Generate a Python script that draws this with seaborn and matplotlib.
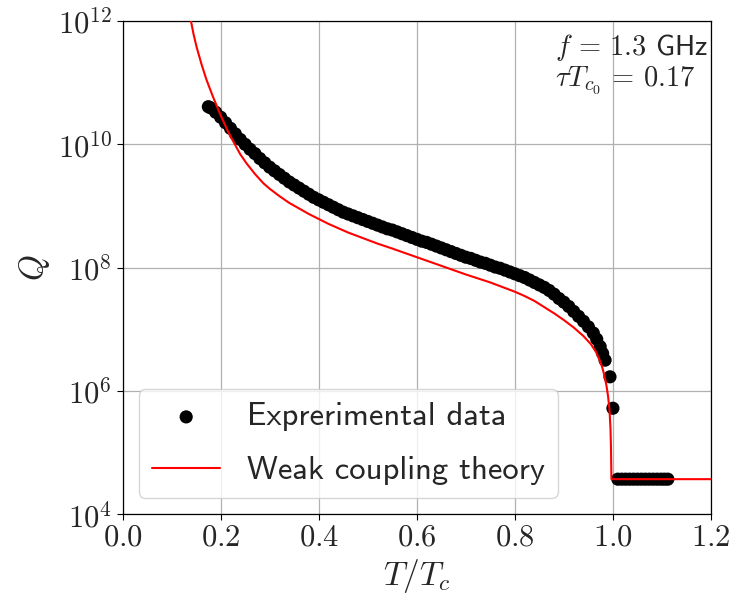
import numpy as np
import pandas as pd
import matplotlib
matplotlib.use("Agg")
import matplotlib.pyplot as plt
import seaborn as sns

# Measured quality factor vs reduced temperature (log10 Q)
t_exp = [0.175, 0.18, 0.19, 0.20, 0.21, 0.22, 0.23, 0.24, 0.25, 0.26,
         0.27, 0.28, 0.29, 0.30, 0.31, 0.32, 0.33, 0.34, 0.35, 0.36,
         0.37, 0.38, 0.39, 0.40, 0.41, 0.42, 0.43, 0.44, 0.45, 0.46,
         0.47, 0.48, 0.49, 0.50, 0.51, 0.52, 0.53, 0.54, 0.55, 0.56,
         0.57, 0.58, 0.59, 0.60, 0.61, 0.62, 0.63, 0.64, 0.65, 0.66,
         0.67, 0.68, 0.69, 0.70, 0.71, 0.72, 0.73, 0.74, 0.75, 0.76,
         0.77, 0.78, 0.79, 0.80, 0.81, 0.82, 0.83, 0.84, 0.85, 0.86,
         0.87, 0.88, 0.89, 0.90, 0.91, 0.92, 0.93, 0.94, 0.95, 0.96,
         0.967, 0.974, 0.979, 0.984, 0.994, 1.000,
         1.010, 1.018, 1.026, 1.034, 1.042, 1.050, 1.058, 1.066, 1.074,
         1.082, 1.090, 1.098, 1.105, 1.112]
log_q_exp = [10.61, 10.59, 10.52, 10.44, 10.35, 10.26, 10.17, 10.08, 10.00, 9.92,
             9.85, 9.77, 9.70, 9.63, 9.57, 9.51, 9.45, 9.39, 9.34, 9.29,
             9.24, 9.19, 9.14, 9.10, 9.06, 9.02, 8.98, 8.94, 8.90, 8.87,
             8.84, 8.81, 8.78, 8.75, 8.72, 8.69, 8.66, 8.63, 8.61, 8.58,
             8.55, 8.52, 8.49, 8.46, 8.43, 8.41, 8.38, 8.35, 8.32, 8.29,
             8.26, 8.23, 8.20, 8.17, 8.15, 8.12, 8.09, 8.07, 8.04, 8.01,
             7.99, 7.96, 7.93, 7.90, 7.87, 7.84, 7.80, 7.76, 7.72, 7.68,
             7.63, 7.57, 7.50, 7.44, 7.37, 7.29, 7.21, 7.13, 7.04, 6.94,
             6.84, 6.72, 6.61, 6.50, 6.23, 5.72,
             4.57, 4.57, 4.57, 4.57, 4.57, 4.57, 4.57, 4.57, 4.57,
             4.57, 4.57, 4.57, 4.57, 4.57]

# Weak coupling theory curve (log10 Q)
t_theory = [0.134, 0.1395, 0.145, 0.151, 0.161, 0.1715, 0.185, 0.2007, 0.215, 0.229,
            0.24, 0.253, 0.27, 0.287, 0.30, 0.32, 0.34, 0.36, 0.38, 0.40,
            0.42, 0.44, 0.46, 0.48, 0.50, 0.52, 0.55, 0.60, 0.65, 0.70,
            0.75, 0.80, 0.82, 0.84, 0.86, 0.88, 0.90, 0.92, 0.94, 0.955,
            0.965, 0.972, 0.978, 0.983, 0.987, 0.990, 0.993, 0.995, 0.996, 0.997,
            1.2]
log_q_theory = [12.25, 12.0, 11.78, 11.58, 11.30, 11.04, 10.76, 10.46, 10.21, 10.0,
                9.84, 9.69, 9.52, 9.37, 9.28, 9.16, 9.05, 8.96, 8.87, 8.79,
                8.71, 8.64, 8.57, 8.51, 8.45, 8.39, 8.31, 8.17, 8.03, 7.89,
                7.76, 7.61, 7.54, 7.46, 7.36, 7.26, 7.15, 7.03, 6.89, 6.76,
                6.64, 6.52, 6.39, 6.24, 6.08, 5.92, 5.70, 5.40, 5.10, 4.57,
                4.57]

x_ticks = [0.0, 0.2, 0.4, 0.6, 0.8, 1.0, 1.2]
x_tick_labels = ["0.0", "0.2", "0.4", "0.6", "0.8", "1.0", "1.2"]
y_ticks = [1e4, 1e6, 1e8, 1e10, 1e12]
y_tick_labels = ["10^{4}", "10^{6}", "10^{8}", "10^{10}", "10^{12}"]

exp_df = pd.DataFrame({"t": t_exp, "Q": 10.0 ** np.array(log_q_exp)})
th_df = pd.DataFrame({"t": t_theory, "Q": 10.0 ** np.array(log_q_theory)})

sns.set_theme(style="ticks")
plt.rcParams["font.family"] = ["cmss10", "DejaVu Sans"]
plt.rcParams["mathtext.fontset"] = "cm"

fig = plt.figure(figsize=(7.39, 6.0), dpi=100)
ax = fig.add_axes([0.1658, 0.1428, 0.7963, 0.8222])

sns.scatterplot(data=exp_df, x="t", y="Q", ax=ax, color="black", s=90,
                edgecolor="none", linewidth=0, label="Exprerimental data",
                zorder=3)
sns.lineplot(data=th_df, x="t", y="Q", ax=ax, color="red", linewidth=1.5,
             estimator=None, sort=False, label="Weak coupling theory",
             zorder=4)

ax.set_yscale("log")
ax.set_xlim(0.0, 1.2)
ax.set_ylim(1e4, 1e12)
ax.set_xticks(x_ticks, labels=[f"${s}$" for s in x_tick_labels])
ax.set_yticks(y_ticks, labels=[f"${s}$" for s in y_tick_labels])
ax.yaxis.set_minor_locator(matplotlib.ticker.NullLocator())
ax.tick_params(axis="both", which="major", labelsize=22, direction="out",
               length=4, width=0.8, color="black")

ax.grid(True, which="major", color="#b0b0b0", linewidth=0.9)
for sp in ax.spines.values():
    sp.set_visible(True)
    sp.set_color("black")
    sp.set_linewidth(0.9)

ax.set_xlabel(r"$T/T_c$", fontsize=24)
ax.set_ylabel(r"$Q$", fontsize=24)

ax.text(0.735, 0.978, r"$f\,=\,1.3$ GHz" + "\n" + r"$\tau T_{c_0}\,=\,0.17$",
        transform=ax.transAxes, ha="left", va="top", multialignment="left",
        fontsize=20.5, linespacing=1.05)

leg = ax.legend(loc="lower left", fontsize=23.5, scatterpoints=1,
                frameon=True, fancybox=True, framealpha=0.8,
                edgecolor="#cccccc", handlelength=2.1, labelspacing=0.75)

fig.savefig("out.png", dpi=100)
